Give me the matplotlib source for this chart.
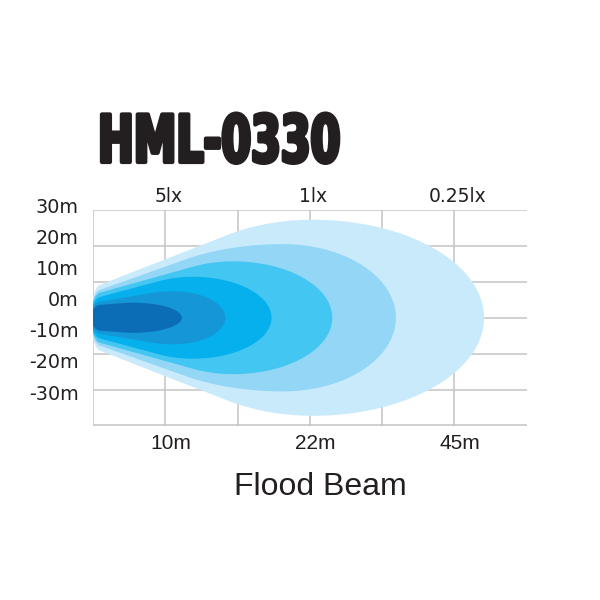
"""HML-0330 flood beam isolux chart."""

import numpy as np
import matplotlib

matplotlib.use("Agg")
import matplotlib.pyplot as plt
from matplotlib.patches import Polygon
from matplotlib.patheffects import AbstractPathEffect
from matplotlib.transforms import Affine2D

# beam contours, outermost first; all lengths in grid cells
# (x: one column per cell, y: one row per cell, lamp at x=0, y=0)
beam_colors = ["#c9eafb", "#93d6f6", "#44c6f2", "#05b0ec", "#1597d7", "#0b6db5"]
beam_peak_x = [3.04, 2.63, 1.94, 1.38, 1.11, 0.55]     # where the contour is widest
beam_back = [2.20, 2.21, 1.31, 1.04, 0.83, 0.55]       # semi-axis towards the lamp
beam_front = [2.37, 1.56, 1.37, 1.09, 0.72, 0.68]      # semi-axis away from the lamp
beam_half_width = [2.73, 2.05, 1.57, 1.14, 0.74, 0.42]
beam_nose = [0.92, 0.78, 0.70, 0.58, 0.45, 0.36]       # half width right at the lamp

lux_labels = ["5lx", "1lx", "0.25lx"]
dist_labels = ["10m", "22m", "45m"]
label_cols = [1, 3, 5]
side_labels = ["30m", "20m", "10m", "0m", "-10m", "-20m", "-30m"]

TITLE = "HML-0330"
XLABEL = "Flood Beam"
INK = "#231f20"
GRID = "#c4c4c4"
W = H = 600


class Squeeze(AbstractPathEffect):
    """Narrow the glyphs around the text origin and thicken them a little."""

    def __init__(self, sx=0.66, stroke=2.0):
        super().__init__()
        self.sx = sx
        self.stroke = stroke

    def draw_path(self, renderer, gc, tpath, affine, rgbFace=None):
        x0, y0 = affine.get_matrix()[:2, 2]
        squeeze = Affine2D().translate(-x0, -y0).scale(self.sx, 1).translate(x0, y0)
        gc0 = renderer.new_gc()
        gc0.copy_properties(gc)
        gc0.set_linewidth(self.stroke)
        gc0.set_foreground(rgbFace)
        gc0.set_joinstyle("round")
        renderer.draw_path(gc0, tpath, affine + squeeze, rgbFace)
        gc0.restore()


def convex_hull(points):
    pts = sorted(set(map(tuple, np.round(points, 6))))

    def cross(o, a, b):
        return (a[0] - o[0]) * (b[1] - o[1]) - (a[1] - o[1]) * (b[0] - o[0])

    def half(seq):
        out = []
        for p in seq:
            while len(out) >= 2 and cross(out[-2], out[-1], p) <= 0:
                out.pop()
            out.append(p)
        return out

    lower = half(pts)
    upper = half(reversed(pts))
    return np.array(lower[:-1] + upper[:-1])


def beam_outline(peak, back, front, half_w, nose):
    # body: two half ellipses meeting at the widest point
    x_start = max(0.0, peak - back)
    u = 0.5 - 0.5 * np.cos(np.linspace(0, np.pi, 200))
    x = x_start + u * (peak + front - x_start)
    semi = np.where(x < peak, back, front)
    h = half_w * np.sqrt(np.clip(1 - ((x - peak) / semi) ** 2, 0, None))
    body = np.vstack([np.column_stack([x, h]), np.column_stack([x, -h])])
    # small rounded nose at the lamp, joined to the body by tangents
    t = np.linspace(0, 2 * np.pi, 120)
    tip = np.column_stack([0.11 + 0.14 * np.cos(t), nose * np.sin(t)])
    return convex_hull(np.vstack([body, tip]))


def px(x, y):
    """pixel position (from top-left) to figure fraction"""
    return x / W, 1 - y / H


fig = plt.figure(figsize=(6, 6), dpi=100)
fig.patch.set_facecolor("white")

ax = fig.add_axes([93 / W, 1 - 425.5 / H, 433.7 / W, 215.5 / H])
ax.set_xlim(0, 6)
ax.set_ylim(-3, 3)
ax.set_axis_off()

for y in range(-3, 4):
    ax.axhline(y, color=GRID, lw=1.1, zorder=1)
for x in range(0, 6):
    ax.axvline(x, color=GRID, lw=1.1, zorder=1)

for i, col in enumerate(beam_colors):
    outline = beam_outline(beam_peak_x[i], beam_back[i], beam_front[i],
                           beam_half_width[i], beam_nose[i])
    ax.add_patch(Polygon(outline, closed=True, facecolor=col, edgecolor="none",
                         zorder=2 + i))

# lux levels above, distances below
for lab, col in zip(lux_labels, label_cols):
    ax.text(col + 0.05, 3.38, lab, ha="center", va="center", fontsize=13.5,
            color=INK, family="DejaVu Sans")
for lab, col in zip(dist_labels, label_cols):
    ax.text(col + 0.08, -3.5, lab, ha="center", va="center", fontsize=15,
            color=INK, family="Liberation Sans")

for i, lab in enumerate(side_labels):
    fig.text(*px(79, 207.7 + i * 31.05), lab, ha="right", va="center",
             fontsize=13.8, color=INK, family="DejaVu Sans")

fig.text(*px(320, 487), XLABEL, ha="center", va="center", fontsize=23,
         color=INK, family="Liberation Sans")

fig.text(*px(98, 162), TITLE, ha="left", va="baseline", fontsize=47,
         fontweight="bold", color=INK, family="DejaVu Sans",
         path_effects=[Squeeze(sx=0.655, stroke=3.0)])

fig.savefig("out.png", dpi=100, facecolor="white")
